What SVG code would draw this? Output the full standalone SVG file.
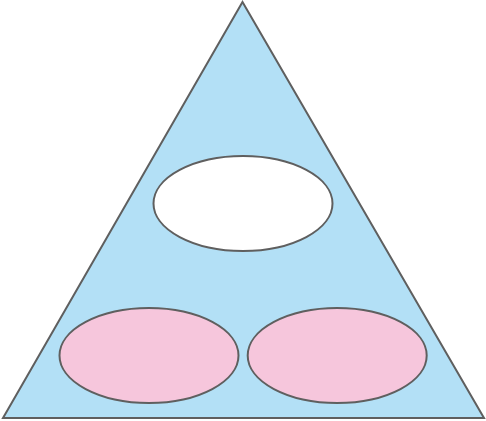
<svg xmlns="http://www.w3.org/2000/svg" width="486" height="421" viewBox="0 0 486 421">
<style>
.s{stroke:#5f5f5f;stroke-width:2}
</style>
<g id="triangle"><polygon class="s" points="242.5,2 3,418 484,418" fill="#b3e0f6"/></g>
<g id="top"><ellipse class="s" cx="243" cy="203.5" rx="89.5" ry="47.5" fill="#ffffff"/></g>
<g id="left"><ellipse class="s" cx="149" cy="355.5" rx="89.5" ry="47.5" fill="#f6c6dc"/></g>
<g id="right"><ellipse class="s" cx="337.2" cy="355.5" rx="89.5" ry="47.5" fill="#f6c6dc"/></g>
<g id="connectors"/>
</svg>
